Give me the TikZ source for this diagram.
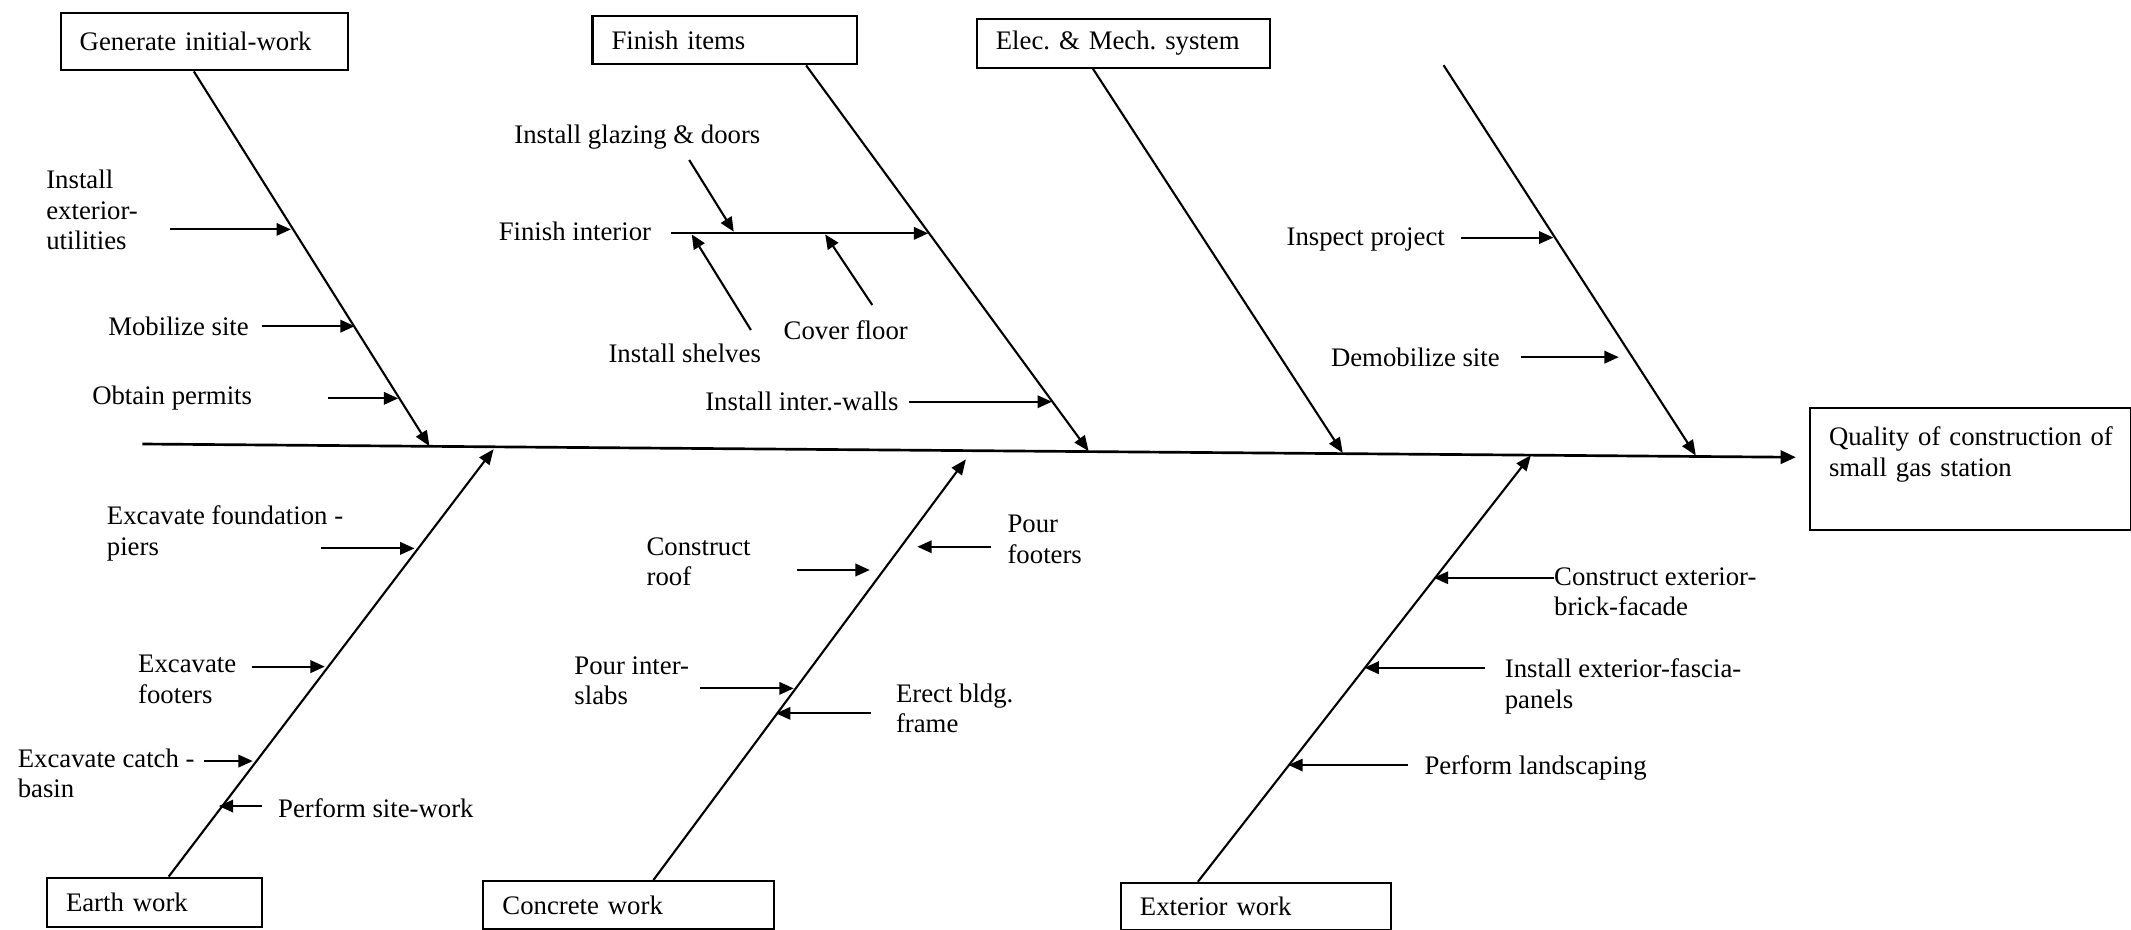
\documentclass[tikz,border=0pt]{standalone}
\usepackage{fontspec}
\setmainfont{Liberation Serif}
\usetikzlibrary{arrows.meta,calc}

\newcommand{\fishfont}{\fontsize{14}{16}\selectfont\frenchspacing}

\tikzset{
  catbox/.style={draw, line width=1.1pt, anchor=north west, align=left,
    inner xsep=0.35cm, inner ysep=0pt, font=\fishfont},
  causelabel/.style={anchor=west, align=left, inner sep=0pt, font=\fishfont},
  spine/.style={line width=1.4pt, -{Triangle[length=8pt,width=7pt]}},
  bone/.style={line width=1.1pt, -{Triangle[length=8pt,width=6.5pt]}},
  sub/.style={line width=1.1pt, -{Triangle[length=7.5pt,width=6.5pt]}}
}

\begin{document}
\begin{tikzpicture}[x=0.025cm, y=-0.025cm]
\useasboundingbox (0,0) rectangle (1568,684);

% category boxes
\node[catbox, text width=4.58cm, minimum height=1.05cm] (gen) at (43.9,9) {Generate initial-work};
\node[catbox, text width=4.16cm, minimum height=0.89cm] (fit) at (435.2,11) {Finish items};
\node[catbox, text width=4.69cm, minimum height=0.89cm] (elm) at (718,13.5) {Elec. \& Mech. system};
\node[catbox, text width=3.25cm, minimum height=0.9cm] (ear) at (33.8,645) {Earth work};
\node[catbox, text width=4.65cm, minimum height=0.89cm] (con) at (354.9,647.5) {Concrete work};
\node[catbox, text width=4.26cm, minimum height=0.86cm] (ext) at (824,648.8) {Exterior work};
\node[catbox, text width=5.2cm, text height=0.685cm, text depth=1.55cm] (qua) at (1331,299.6) {\mbox{Quality of construction of}\\small gas station};

% spine
\coordinate (tail) at (104.7,326.7);
\draw[spine, shorten >=0.24cm] (tail) -- ($(qua.north west)!0.406!(qua.south west)$);

% main bones
\coordinate (j1) at (316,328.3);
\coordinate (j2) at (801,331.9);
\coordinate (j3) at (988,333.3);
\coordinate (j4) at (1247.8,335.2);
\coordinate (t4) at (1062.2,48);
\coordinate (k1) at (363.2,330.5);
\coordinate (k2) at (710.7,338);
\coordinate (k3) at (1126.4,335);
\draw[bone] ($(gen.south west)!.464!(gen.south east)$) -- (j1);
\draw[bone] ($(fit.south west)!.806!(fit.south east)$) -- (j2);
\draw[bone] ($(elm.south west)!.397!(elm.south east)$) -- (j3);
\draw[bone] (t4) -- (j4);
\draw[bone] ($(ear.north west)!.566!(ear.north east)$) -- (k1);
\draw[bone] ($(con.north west)!.584!(con.north east)$) -- (k2);
\draw[bone] ($(ext.north west)!.287!(ext.north east)$) -- (k3);

% cause labels
\node[causelabel] (ieu) at (33.8,154.6) {Install\\exterior-\\utilities};
\node[causelabel] (mob) at (79.4,240) {Mobilize site};
\node[causelabel] (obt) at (67.6,293.1) {Obtain permits};
\node[causelabel] (gla) at (378.2,100.6) {Install glazing \& doors};
\node[causelabel] (fin) at (366.7,170.5) {Finish interior};
\node[causelabel] (she) at (447.5,260) {Install shelves};
\node[causelabel] (cov) at (576.4,242.8) {Cover floor};
\node[causelabel] (iwa) at (518.7,295.6) {Install inter.-walls};
\node[causelabel] (ins) at (946.4,176) {Inspect project};
\node[causelabel] (dem) at (979.1,262.8) {Demobilize site};
\node[causelabel] (exf) at (78.4,392.5) {Excavate foundation -\\piers};
\node[causelabel] (exo) at (101.4,499.8) {Excavate\\footers};
\node[causelabel] (exc) at (12.8,569) {Excavate catch -\\basin};
\node[causelabel] (psw) at (204.4,594.8) {Perform site-work};
\node[causelabel] (cro) at (475.5,413.3) {Construct\\roof};
\node[causelabel] (pft) at (741.1,396.7) {Pour\\footers};
\node[causelabel] (pis) at (422.4,501) {Pour inter-\\slabs};
\node[causelabel] (ebf) at (659,521.2) {Erect bldg.\\frame};
\node[causelabel] (ceb) at (1143.3,435.3) {Construct exterior-\\brick-facade};
\node[causelabel] (ief) at (1107,505.2) {Install exterior-fascia-\\panels};
\node[causelabel] (pla) at (1047.9,565.4) {Perform landscaping};

% finish interior sub-bone
\coordinate (fin-s) at (493.7,171.7);  \coordinate (fin-t) at (683,171.7);
\coordinate (gla-s) at (507.1,117.7);  \coordinate (gla-t) at (539.9,170.5);
\coordinate (she-s) at (552.5,242.8);  \coordinate (she-t) at (509,172.5);
\coordinate (cov-s) at (641.8,224.4);  \coordinate (cov-t) at (607.2,172.5);
\draw[sub] (fin-s) -- (fin-t);
\draw[sub] (gla-s) -- (gla-t);
\draw[sub] (she-s) -- (she-t);
\draw[sub] (cov-s) -- (cov-t);

% arrows into the bones
\coordinate (ieu-s) at (125,168.8);    \coordinate (ieu-t) at (214,168.8);
\coordinate (mob-s) at (192.6,240);    \coordinate (mob-t) at (261,240);
\coordinate (obt-s) at (241.6,293.1);  \coordinate (obt-t) at (293,293.1);
\coordinate (iwa-s) at (668.8,295.6);  \coordinate (iwa-t) at (774,295.6);
\coordinate (ins-s) at (1075.3,174.8); \coordinate (ins-t) at (1143,174.8);
\coordinate (dem-s) at (1119,262.8);   \coordinate (dem-t) at (1191.1,262.8);
\coordinate (exf-s) at (236.5,403.5);  \coordinate (exf-t) at (305,403.5);
\coordinate (exo-s) at (185.2,490.5);  \coordinate (exo-t) at (239,490.5);
\coordinate (exc-s) at (150.3,560);    \coordinate (exc-t) at (186,560);
\coordinate (psw-s) at (192.6,593.1);  \coordinate (psw-t) at (161,593.1);
\coordinate (cro-s) at (586.4,419.4);  \coordinate (cro-t) at (640,419.4);
\coordinate (pft-s) at (728.9,402.3);  \coordinate (pft-t) at (675,402.3);
\coordinate (pis-s) at (515.4,506.5);  \coordinate (pis-t) at (584,506.5);
\coordinate (ebf-s) at (641,524.9);    \coordinate (ebf-t) at (571,524.9);
\coordinate (ceb-s) at (1143.3,425.1); \coordinate (ceb-t) at (1055,425.1);
\coordinate (ief-s) at (1092.4,491.3); \coordinate (ief-t) at (1004,491.3);
\coordinate (pla-s) at (1035.8,562.9); \coordinate (pla-t) at (948,562.9);
\draw[sub] (ieu-s) -- (ieu-t);
\draw[sub] (mob-s) -- (mob-t);
\draw[sub] (obt-s) -- (obt-t);
\draw[sub] (iwa-s) -- (iwa-t);
\draw[sub] (ins-s) -- (ins-t);
\draw[sub] (dem-s) -- (dem-t);
\draw[sub] (exf-s) -- (exf-t);
\draw[sub] (exo-s) -- (exo-t);
\draw[sub] (exc-s) -- (exc-t);
\draw[sub] (psw-s) -- (psw-t);
\draw[sub] (cro-s) -- (cro-t);
\draw[sub] (pft-s) -- (pft-t);
\draw[sub] (pis-s) -- (pis-t);
\draw[sub] (ebf-s) -- (ebf-t);
\draw[sub] (ceb-s) -- (ceb-t);
\draw[sub] (ief-s) -- (ief-t);
\draw[sub] (pla-s) -- (pla-t);
\end{tikzpicture}
\end{document}
